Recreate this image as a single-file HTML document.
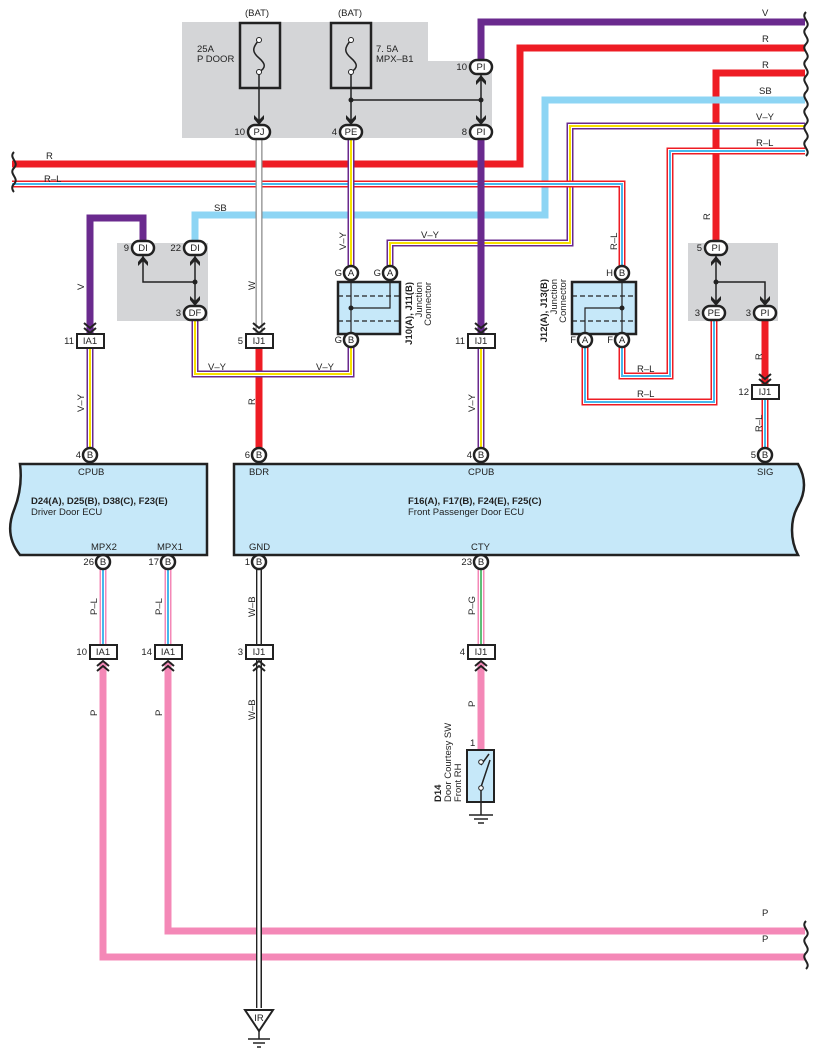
<!DOCTYPE html>
<html><head><meta charset="utf-8"><style>
html,body{margin:0;padding:0;background:#fff}
svg{display:block}
text{font-family:"Liberation Sans",sans-serif;font-size:9.5px;fill:#222}
.b{font-weight:bold}
</style></head><body>
<svg width="818" height="1062" viewBox="0 0 818 1062" xmlns="http://www.w3.org/2000/svg">
<defs>
<g id="dn"><path d="M-5,-8 L0,-3 L5,-8 L5,-4 L0,2 L-5,-4Z" fill="#222"/></g>
<g id="up"><path d="M-5,8 L0,3 L5,8 L5,4 L0,-2 L-5,4Z" fill="#222"/></g>
<g id="dd"><path d="M-6,-10 L0,-5 L6,-10 M-6,-5 L0,0 L6,-5" fill="none" stroke="#222" stroke-width="2"/></g>
<g id="du"><path d="M-6,10 L0,5 L6,10 M-6,5 L0,0 L6,5" fill="none" stroke="#222" stroke-width="2"/></g>
</defs>
<path d="M182,22 H428 V61 H492 V138 H182Z" fill="#d4d5d7"/>
<rect x="117" y="243" width="91" height="78" fill="#d4d5d7"/>
<rect x="688" y="243" width="90" height="78" fill="#d4d5d7"/>

<g fill="none" stroke-linejoin="miter">
<polyline points="481,62 481,22 805,22" stroke="#6a2a8e" stroke-width="7"/>
<polyline points="12,164 520,164 520,48 805,48" stroke="#ee1c24" stroke-width="7"/>
<polyline points="716,248 716,73 805,73" stroke="#ee1c24" stroke-width="7"/>
<polyline points="195,248 195,215 545,215 545,100 805,100" stroke="#8dd5f4" stroke-width="7"/>
<g>
<polyline points="390,273 390,243 570,243 570,126 805,126" stroke="#6a2a8e" stroke-width="7"/>
<polyline points="390,273 390,243 570,243 570,126 805,126" stroke="#fff" stroke-width="4"/>
<polyline points="390,273 390,243 570,243 570,126 805,126" stroke="#f8e000" stroke-width="2"/>
</g>
<g>
<polyline points="622,340 622,376 670,376 670,151 805,151" stroke="#ee1c24" stroke-width="7"/>
<polyline points="622,340 622,376 670,376 670,151 805,151" stroke="#fff" stroke-width="4"/>
<polyline points="622,340 622,376 670,376 670,151 805,151" stroke="#47b8ec" stroke-width="2"/>
</g>
<g>
<polyline points="12,184 622,184 622,273" stroke="#ee1c24" stroke-width="7"/>
<polyline points="12,184 622,184 622,273" stroke="#fff" stroke-width="4"/>
<polyline points="12,184 622,184 622,273" stroke="#47b8ec" stroke-width="2"/>
</g>
<g>
<polyline points="585,340 585,402 714,402 714,313" stroke="#ee1c24" stroke-width="7"/>
<polyline points="585,340 585,402 714,402 714,313" stroke="#fff" stroke-width="4"/>
<polyline points="585,340 585,402 714,402 714,313" stroke="#47b8ec" stroke-width="2"/>
</g>
<polyline points="765,313 765,385" stroke="#ee1c24" stroke-width="7"/>
<polyline points="765,392 765,455" stroke="#ee1c24" stroke-width="7"/>
<polyline points="765,392 765,455" stroke="#fff" stroke-width="4"/>
<polyline points="765,392 765,455" stroke="#47b8ec" stroke-width="2"/>
<polyline points="143,248 143,218 90,218 90,335" stroke="#6a2a8e" stroke-width="7"/>
<g><polyline points="90,341 90,455" stroke="#6a2a8e" stroke-width="7"/><polyline points="90,341 90,455" stroke="#fff" stroke-width="4"/><polyline points="90,341 90,455" stroke="#f8e000" stroke-width="2"/></g>
<polyline points="259,132 259,335" stroke="#888" stroke-width="7"/>
<polyline points="259,132 259,335" stroke="#fff" stroke-width="4.5"/>
<polyline points="259,341 259,455" stroke="#ee1c24" stroke-width="7"/>
<g><polyline points="195,313 195,374 351,374 351,340" stroke="#6a2a8e" stroke-width="7"/><polyline points="195,313 195,374 351,374 351,340" stroke="#fff" stroke-width="4"/><polyline points="195,313 195,374 351,374 351,340" stroke="#f8e000" stroke-width="2"/></g>
<g><polyline points="351,132 351,273" stroke="#6a2a8e" stroke-width="7"/><polyline points="351,132 351,273" stroke="#fff" stroke-width="4"/><polyline points="351,132 351,273" stroke="#f8e000" stroke-width="2"/></g>
<polyline points="481,132 481,335" stroke="#6a2a8e" stroke-width="7"/>
<g><polyline points="481,341 481,455" stroke="#6a2a8e" stroke-width="7"/><polyline points="481,341 481,455" stroke="#fff" stroke-width="4"/><polyline points="481,341 481,455" stroke="#f8e000" stroke-width="2"/></g>
<g><polyline points="103,562 103,652" stroke="#f488b7" stroke-width="7"/><polyline points="103,562 103,652" stroke="#fff" stroke-width="4"/><polyline points="103,562 103,652" stroke="#47b8ec" stroke-width="2"/></g>
<g><polyline points="168,562 168,652" stroke="#f488b7" stroke-width="7"/><polyline points="168,562 168,652" stroke="#fff" stroke-width="4"/><polyline points="168,562 168,652" stroke="#47b8ec" stroke-width="2"/></g>
<g><polyline points="481,562 481,652" stroke="#f488b7" stroke-width="7"/><polyline points="481,562 481,652" stroke="#fff" stroke-width="4"/><polyline points="481,562 481,652" stroke="#2aa84a" stroke-width="1.5"/></g>
<polyline points="103,662 103,957 805,957" stroke="#f488b7" stroke-width="7"/>
<polyline points="168,662 168,931 805,931" stroke="#f488b7" stroke-width="7"/>
<polyline points="481,662 481,750" stroke="#f488b7" stroke-width="7"/>
<polyline points="259,562 259,1008" stroke="#222" stroke-width="6"/>
<polyline points="259,562 259,1008" stroke="#fff" stroke-width="3"/>
<polyline points="257.5,562 257.5,1008" stroke="#aaa" stroke-width="1"/>
</g>

<g fill="none" stroke="#222" stroke-width="2.5">
<rect x="240" y="23" width="40" height="65"/>
<rect x="331" y="23" width="40" height="65"/>
</g>
<g fill="none" stroke="#222" stroke-width="1.5">
<path d="M259,40 C252,48 252,52 259,58 C266,64 266,68 259,72"/>
<path d="M351,40 C344,48 344,52 351,58 C358,64 358,68 351,72"/>
<line x1="259" y1="72" x2="259" y2="125"/>
<line x1="351" y1="72" x2="351" y2="125"/>
<line x1="351" y1="100" x2="481" y2="100"/>
<line x1="481" y1="75" x2="481" y2="125"/>
<polyline points="143,256 143,282 195,282"/>
<line x1="195" y1="256" x2="195" y2="306"/>
<line x1="716" y1="256" x2="716" y2="306"/>
<polyline points="716,282 765,282 765,306"/>
</g>
<circle cx="259" cy="40" r="2.5" fill="#fff" stroke="#222"/><circle cx="259" cy="72" r="2.5" fill="#fff" stroke="#222"/>
<circle cx="351" cy="40" r="2.5" fill="#fff" stroke="#222"/><circle cx="351" cy="72" r="2.5" fill="#fff" stroke="#222"/>
<circle cx="351" cy="100" r="2.5" fill="#222"/><circle cx="481" cy="100" r="2.5" fill="#222"/>
<circle cx="195" cy="282" r="2.5" fill="#222"/><circle cx="716" cy="282" r="2.5" fill="#222"/>
<use href="#dn" x="259" y="123"/><use href="#dn" x="351" y="123"/><use href="#dn" x="481" y="123"/>
<use href="#up" x="481" y="77"/>
<use href="#up" x="143" y="258"/><use href="#up" x="195" y="258"/><use href="#dn" x="195" y="304"/>
<use href="#up" x="716" y="258"/><use href="#dn" x="716" y="304"/><use href="#dn" x="765" y="304"/>
<text x="245" y="16">(BAT)</text><text x="338" y="16">(BAT)</text>
<text x="197" y="52">25A</text><text x="197" y="62">P DOOR</text>
<text x="376" y="52">7. 5A</text><text x="376" y="62">MPX–B1</text>

<rect x="338" y="282" width="62" height="52" fill="#c6e8f9" stroke="#222" stroke-width="2.5"/>
<g stroke="#222" stroke-width="1.2" fill="none">
<line x1="338" y1="296" x2="400" y2="296" stroke-dasharray="5,3"/>
<line x1="338" y1="321" x2="400" y2="321" stroke-dasharray="5,3"/>
<line x1="351" y1="280" x2="351" y2="334"/>
<polyline points="351,308 390,308 390,280"/>
</g>
<circle cx="351" cy="308" r="2.5" fill="#222"/>
<rect x="572" y="282" width="64" height="52" fill="#c6e8f9" stroke="#222" stroke-width="2.5"/>
<g stroke="#222" stroke-width="1.2" fill="none">
<line x1="572" y1="296" x2="636" y2="296" stroke-dasharray="5,3"/>
<line x1="572" y1="321" x2="636" y2="321" stroke-dasharray="5,3"/>
<line x1="622" y1="280" x2="622" y2="334"/>
<polyline points="622,308 585,308 585,334"/>
</g>
<circle cx="622" cy="308" r="2.5" fill="#222"/>
<text transform="translate(412,282) rotate(-90)" text-anchor="end" class="b">J10(A), J11(B)</text>
<text transform="translate(422,282) rotate(-90)" text-anchor="end">Junction</text>
<text transform="translate(431,282) rotate(-90)" text-anchor="end">Connector</text>
<text transform="translate(547,279) rotate(-90)" text-anchor="end" class="b">J12(A), J13(B)</text>
<text transform="translate(557,279) rotate(-90)" text-anchor="end">Junction</text>
<text transform="translate(566,279) rotate(-90)" text-anchor="end">Connector</text>

<path d="M20,464 H207 V555 H20 C8,540 8,525 14,510 C20,495 22,480 20,464Z" fill="#c6e8f9" stroke="#222" stroke-width="2.5"/>
<path d="M234,464 H798 C806,478 806,492 798,506 C790,520 790,540 798,555 H234Z" fill="#c6e8f9" stroke="#222" stroke-width="2.5"/>
<text x="78" y="475">CPUB</text><text x="249" y="475">BDR</text><text x="468" y="475">CPUB</text><text x="757" y="475">SIG</text>
<text x="91" y="550">MPX2</text><text x="157" y="550">MPX1</text><text x="249" y="550">GND</text><text x="471" y="550">CTY</text>
<text x="31" y="504" class="b">D24(A), D25(B), D38(C), F23(E)</text><text x="31" y="515">Driver Door ECU</text>
<text x="408" y="504" class="b">F16(A), F17(B), F24(E), F25(C)</text><text x="408" y="515">Front Passenger Door ECU</text>

<g fill="#fff" stroke="#222" stroke-width="2.5">
<rect x="248" y="125" width="22" height="14" rx="7"/>
<rect x="340" y="125" width="22" height="14" rx="7"/>
<rect x="470" y="125" width="22" height="14" rx="7"/>
<rect x="470" y="60" width="22" height="14" rx="7"/>
<rect x="132" y="241" width="22" height="14" rx="7"/>
<rect x="184" y="241" width="22" height="14" rx="7"/>
<rect x="184" y="306" width="22" height="14" rx="7"/>
<rect x="705" y="241" width="22" height="14" rx="7"/>
<rect x="703" y="306" width="22" height="14" rx="7"/>
<rect x="754" y="306" width="22" height="14" rx="7"/>
<circle cx="351" cy="273" r="7"/><circle cx="390" cy="273" r="7"/><circle cx="351" cy="340" r="7"/>
<circle cx="622" cy="273" r="7"/><circle cx="585" cy="340" r="7"/><circle cx="622" cy="340" r="7"/>
<circle cx="90" cy="455" r="7"/><circle cx="259" cy="455" r="7"/><circle cx="481" cy="455" r="7"/><circle cx="765" cy="455" r="7"/>
<circle cx="103" cy="562" r="7"/><circle cx="168" cy="562" r="7"/><circle cx="259" cy="562" r="7"/><circle cx="481" cy="562" r="7"/>
</g>
<g text-anchor="middle">
<text x="259" y="135">PJ</text><text x="351" y="135">PE</text><text x="481" y="135">PI</text><text x="481" y="70">PI</text>
<text x="143" y="251">DI</text><text x="195" y="251">DI</text><text x="195" y="316">DF</text>
<text x="716" y="251">PI</text><text x="714" y="316">PE</text><text x="765" y="316">PI</text>
<text x="351" y="276">A</text><text x="390" y="276">A</text><text x="351" y="343">B</text>
<text x="622" y="276">B</text><text x="585" y="343">A</text><text x="622" y="343">A</text>
<text x="90" y="458">B</text><text x="259" y="458">B</text><text x="481" y="458">B</text><text x="765" y="458">B</text>
<text x="103" y="565">B</text><text x="168" y="565">B</text><text x="259" y="565">B</text><text x="481" y="565">B</text>
</g>
<g text-anchor="end">
<text x="245" y="135">10</text><text x="337" y="135">4</text><text x="467" y="135">8</text><text x="467" y="70">10</text>
<text x="129" y="251">9</text><text x="181" y="251">22</text><text x="181" y="316">3</text>
<text x="702" y="251">5</text><text x="700" y="316">3</text><text x="751" y="316">3</text>
<text x="342" y="276">G</text><text x="381" y="276">G</text><text x="342" y="343">G</text>
<text x="613" y="276">H</text><text x="576" y="343">F</text><text x="613" y="343">F</text>
<text x="81" y="458">4</text><text x="250" y="458">6</text><text x="472" y="458">4</text><text x="756" y="458">5</text>
<text x="94" y="565">26</text><text x="159" y="565">17</text><text x="250" y="565">1</text><text x="472" y="565">23</text>
</g>

<g fill="#fff" stroke="#222" stroke-width="2">
<rect x="77" y="334" width="27" height="14"/><rect x="246" y="334" width="27" height="14"/><rect x="468" y="334" width="27" height="14"/>
<rect x="752" y="385" width="27" height="14"/>
<rect x="90" y="645" width="27" height="14"/><rect x="155" y="645" width="27" height="14"/><rect x="246" y="645" width="27" height="14"/><rect x="468" y="645" width="27" height="14"/>
</g>
<g text-anchor="middle">
<text x="90" y="344">IA1</text><text x="259" y="344">IJ1</text><text x="481" y="344">IJ1</text><text x="765" y="395">IJ1</text>
<text x="103" y="655">IA1</text><text x="168" y="655">IA1</text><text x="259" y="655">IJ1</text><text x="481" y="655">IJ1</text>
</g>
<g text-anchor="end">
<text x="74" y="344">11</text><text x="243" y="344">5</text><text x="465" y="344">11</text><text x="749" y="395">12</text>
<text x="87" y="655">10</text><text x="152" y="655">14</text><text x="243" y="655">3</text><text x="465" y="655">4</text>
</g>
<use href="#dd" x="90" y="333"/><use href="#dd" x="259" y="333"/><use href="#dd" x="481" y="333"/><use href="#dd" x="765" y="384"/>
<use href="#du" x="103" y="661"/><use href="#du" x="168" y="661"/><use href="#du" x="259" y="661"/><use href="#du" x="481" y="661"/>

<rect x="467" y="750" width="27" height="52" fill="#c6e8f9" stroke="#222" stroke-width="2"/>
<g stroke="#222" stroke-width="1.5" fill="none">
<line x1="481" y1="765" x2="489" y2="754"/>
<line x1="481" y1="787" x2="490" y2="760"/>
<line x1="481" y1="790" x2="481" y2="815"/>
<line x1="469" y1="815" x2="493" y2="815"/><line x1="474" y1="819" x2="488" y2="819"/><line x1="478" y1="823" x2="484" y2="823"/>
</g>
<circle cx="481" cy="762" r="2.3" fill="#fff" stroke="#222"/><circle cx="481" cy="788" r="2.3" fill="#fff" stroke="#222"/>
<text x="470" y="746">1</text>
<text transform="translate(441,802) rotate(-90)" class="b">D14</text>
<text transform="translate(451,802) rotate(-90)">Door Courtesy SW</text>
<text transform="translate(461,802) rotate(-90)">Front RH</text>

<path d="M245,1010 H273 L259,1031Z" fill="#fff" stroke="#222" stroke-width="2"/>
<text x="259" y="1021" text-anchor="middle" font-size="8">IR</text>
<g stroke="#222" stroke-width="1.5"><line x1="259" y1="1031" x2="259" y2="1039"/><line x1="248" y1="1039" x2="270" y2="1039"/><line x1="253" y1="1043" x2="265" y2="1043"/><line x1="257" y1="1047" x2="261" y2="1047"/></g>

<g fill="none" stroke="#222" stroke-width="2">
<path d="M806,12 c-6,6 6,10 0,16 c-6,6 6,10 0,16 c-6,6 6,10 0,16 c-6,6 6,10 0,16 c-6,6 6,10 0,16 c-6,6 6,10 0,16 c-6,6 6,10 0,16 c-6,6 6,10 0,16 c-6,6 6,10 0,16"/>
<path d="M14,152 c-6,6 6,10 0,16 c-6,6 6,10 0,16 c-4,4 0,8 0,8"/>
<path d="M806,921 c-6,6 6,10 0,16 c-6,6 6,10 0,16 c-6,6 6,10 0,16"/>
</g>

<text x="762" y="16">V</text><text x="762" y="42">R</text><text x="762" y="68">R</text><text x="759" y="94">SB</text><text x="756" y="120">V–Y</text><text x="756" y="146">R–L</text>
<text x="46" y="159">R</text><text x="44" y="182">R–L</text><text x="214" y="211">SB</text><text x="421" y="238">V–Y</text>
<text x="208" y="370">V–Y</text><text x="316" y="370">V–Y</text>
<text x="637" y="372">R–L</text><text x="637" y="397">R–L</text>
<text x="762" y="916">P</text><text x="762" y="942">P</text>
<g>
<text transform="translate(84,290) rotate(-90)">V</text>
<text transform="translate(255,290) rotate(-90)">W</text>
<text transform="translate(346,250) rotate(-90)">V–Y</text>
<text transform="translate(617,250) rotate(-90)">R–L</text>
<text transform="translate(710,220) rotate(-90)">R</text>
<text transform="translate(84,412) rotate(-90)">V–Y</text>
<text transform="translate(255,405) rotate(-90)">R</text>
<text transform="translate(475,412) rotate(-90)">V–Y</text>
<text transform="translate(762,360) rotate(-90)">R</text>
<text transform="translate(762,432) rotate(-90)">R–L</text>
<text transform="translate(97,615) rotate(-90)">P–L</text>
<text transform="translate(162,615) rotate(-90)">P–L</text>
<text transform="translate(255,617) rotate(-90)">W–B</text>
<text transform="translate(475,615) rotate(-90)">P–G</text>
<text transform="translate(97,716) rotate(-90)">P</text>
<text transform="translate(162,716) rotate(-90)">P</text>
<text transform="translate(255,720) rotate(-90)">W–B</text>
<text transform="translate(475,707) rotate(-90)">P</text>
</g>
</svg>
</body></html>
